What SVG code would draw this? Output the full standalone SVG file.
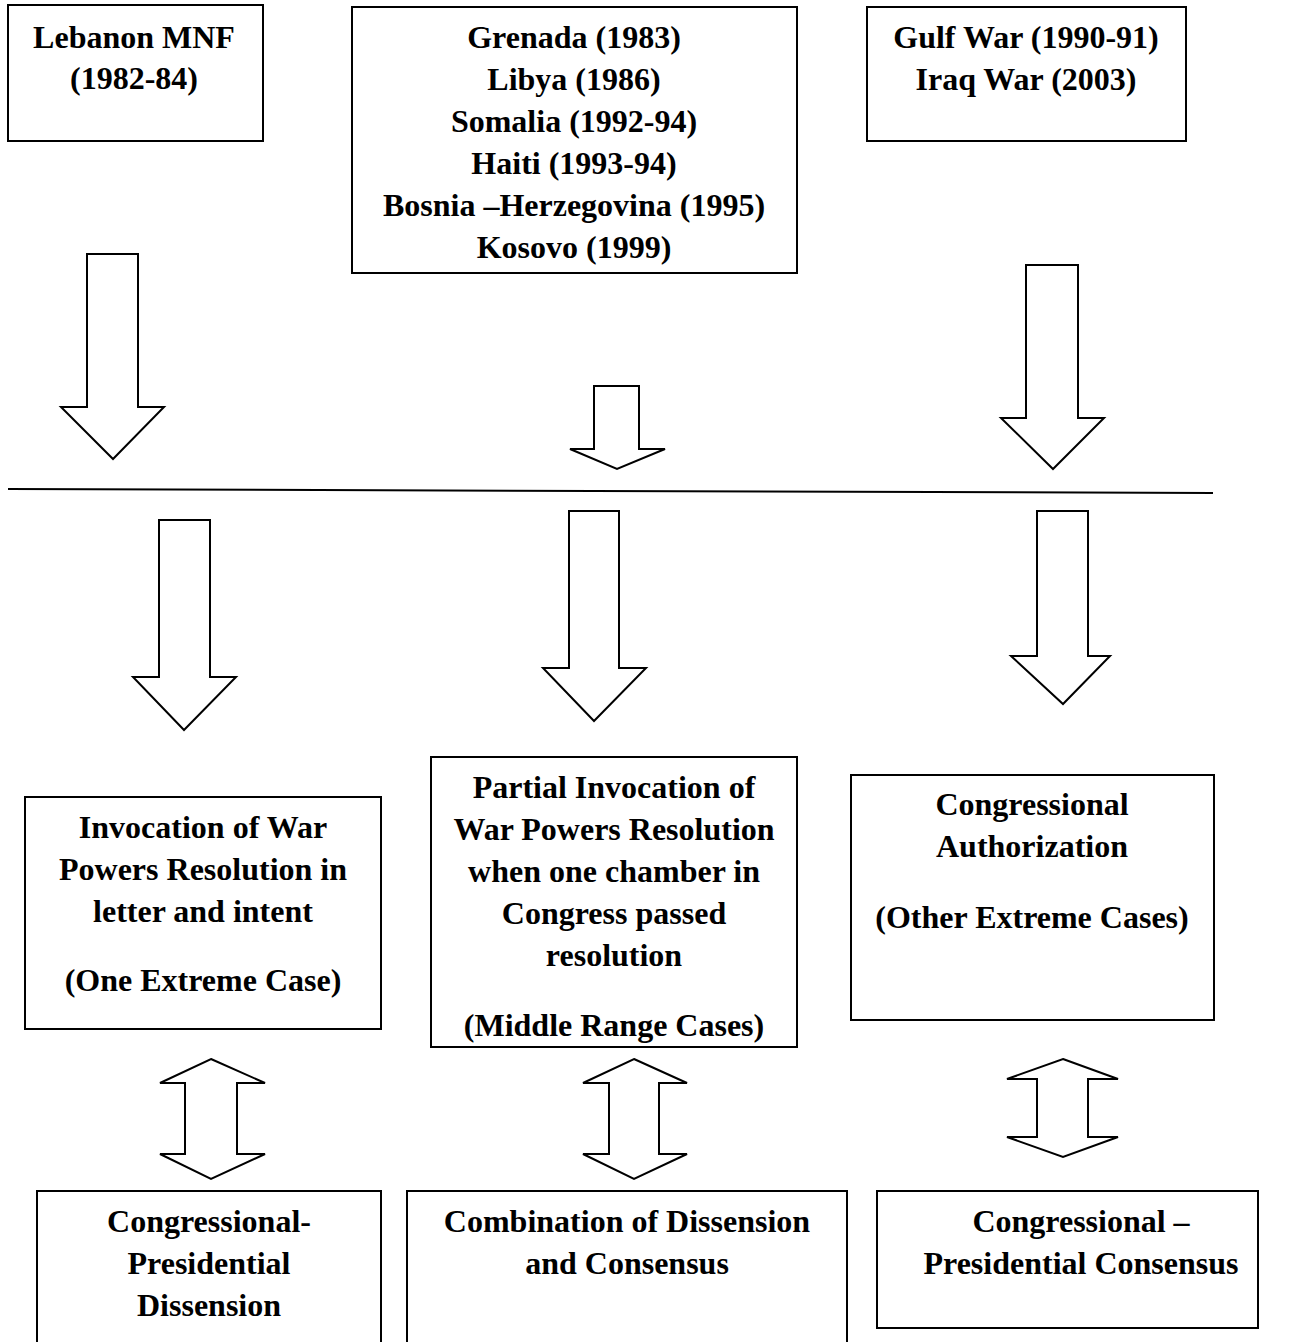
<svg xmlns="http://www.w3.org/2000/svg" width="1291" height="1342" viewBox="0 0 1291 1342">
<style>
.box{fill:#fff;stroke:#000;stroke-width:2}
.arr{fill:#fff;stroke:#000;stroke-width:2;stroke-linejoin:miter}
text{font-family:"Liberation Serif","Times New Roman",serif;font-weight:bold;font-size:32px;fill:#000;text-anchor:middle}
</style>
<rect width="1291" height="1342" fill="#fff"/>
<g id="connectors">
<polygon class="arr" points="87,254 138,254 138,407 164,407 113,459 61,407 87,407"/>
<polygon class="arr" points="594,386 639,386 639,449 665,449 617,469 570,449 594,449"/>
<polygon class="arr" points="1026,265 1078,265 1078,418 1104,418 1053,469 1001,418 1026,418"/>
<line x1="8" y1="489" x2="1213" y2="493" stroke="#000" stroke-width="2"/>
<polygon class="arr" points="159,520 210,520 210,677 236,677 184,730 133,677 159,677"/>
<polygon class="arr" points="569,511 619,511 619,668 646,668 594,721 543,668 569,668"/>
<polygon class="arr" points="1037,511 1088,511 1088,656 1110,656 1063,704 1011,656 1037,656"/>
<polygon class="arr" points="211,1059 265,1083 237,1083 237,1154 265,1154 211,1179 160,1154 185,1154 185,1083 160,1083"/>
<polygon class="arr" points="634,1059 687,1083 659,1083 659,1154 687,1154 634,1179 583,1154 609,1154 609,1083 583,1083"/>
<polygon class="arr" points="1063,1059 1118,1079 1088,1079 1088,1137 1118,1137 1063,1157 1007,1137 1037,1137 1037,1079 1007,1079"/>
</g>
<g id="lebanon">
<rect class="box" x="8" y="5" width="255" height="136"/>
<text x="134" y="48">Lebanon MNF</text>
<text x="134" y="89">(1982-84)</text>
</g>
<g id="middle-cases">
<rect class="box" x="352" y="7" width="445" height="266"/>
<text x="574" y="48">Grenada (1983)</text>
<text x="574" y="90">Libya (1986)</text>
<text x="574" y="132">Somalia (1992-94)</text>
<text x="574" y="174">Haiti (1993-94)</text>
<text x="574" y="216">Bosnia –Herzegovina (1995)</text>
<text x="574" y="258">Kosovo (1999)</text>
</g>
<g id="gulf">
<rect class="box" x="867" y="7" width="319" height="134"/>
<text x="1026" y="48">Gulf War (1990-91)</text>
<text x="1026" y="90">Iraq War (2003)</text>
</g>
<g id="invocation">
<rect class="box" x="25" y="797" width="356" height="232"/>
<text x="203" y="838">Invocation of War</text>
<text x="203" y="880">Powers Resolution in</text>
<text x="203" y="922">letter and intent</text>
<text x="203" y="991">(One Extreme Case)</text>
</g>
<g id="partial">
<rect class="box" x="431" y="757" width="366" height="290"/>
<text x="614" y="798">Partial Invocation of</text>
<text x="614" y="840">War Powers Resolution</text>
<text x="614" y="882">when one chamber in</text>
<text x="614" y="924">Congress passed</text>
<text x="614" y="966">resolution</text>
<text x="614" y="1036">(Middle Range Cases)</text>
</g>
<g id="authorization">
<rect class="box" x="851" y="775" width="363" height="245"/>
<text x="1032" y="815">Congressional</text>
<text x="1032" y="857">Authorization</text>
<text x="1032" y="928">(Other Extreme Cases)</text>
</g>
<g id="dissension">
<rect class="box" x="37" y="1191" width="344" height="160"/>
<text x="209" y="1232">Congressional-</text>
<text x="209" y="1274">Presidential</text>
<text x="209" y="1316">Dissension</text>
</g>
<g id="combination">
<rect class="box" x="407" y="1191" width="440" height="160"/>
<text x="627" y="1232">Combination of Dissension</text>
<text x="627" y="1274">and Consensus</text>
</g>
<g id="consensus">
<rect class="box" x="877" y="1191" width="381" height="137"/>
<text x="1081" y="1232">Congressional –</text>
<text x="1081" y="1274">Presidential Consensus</text>
</g>
</svg>
